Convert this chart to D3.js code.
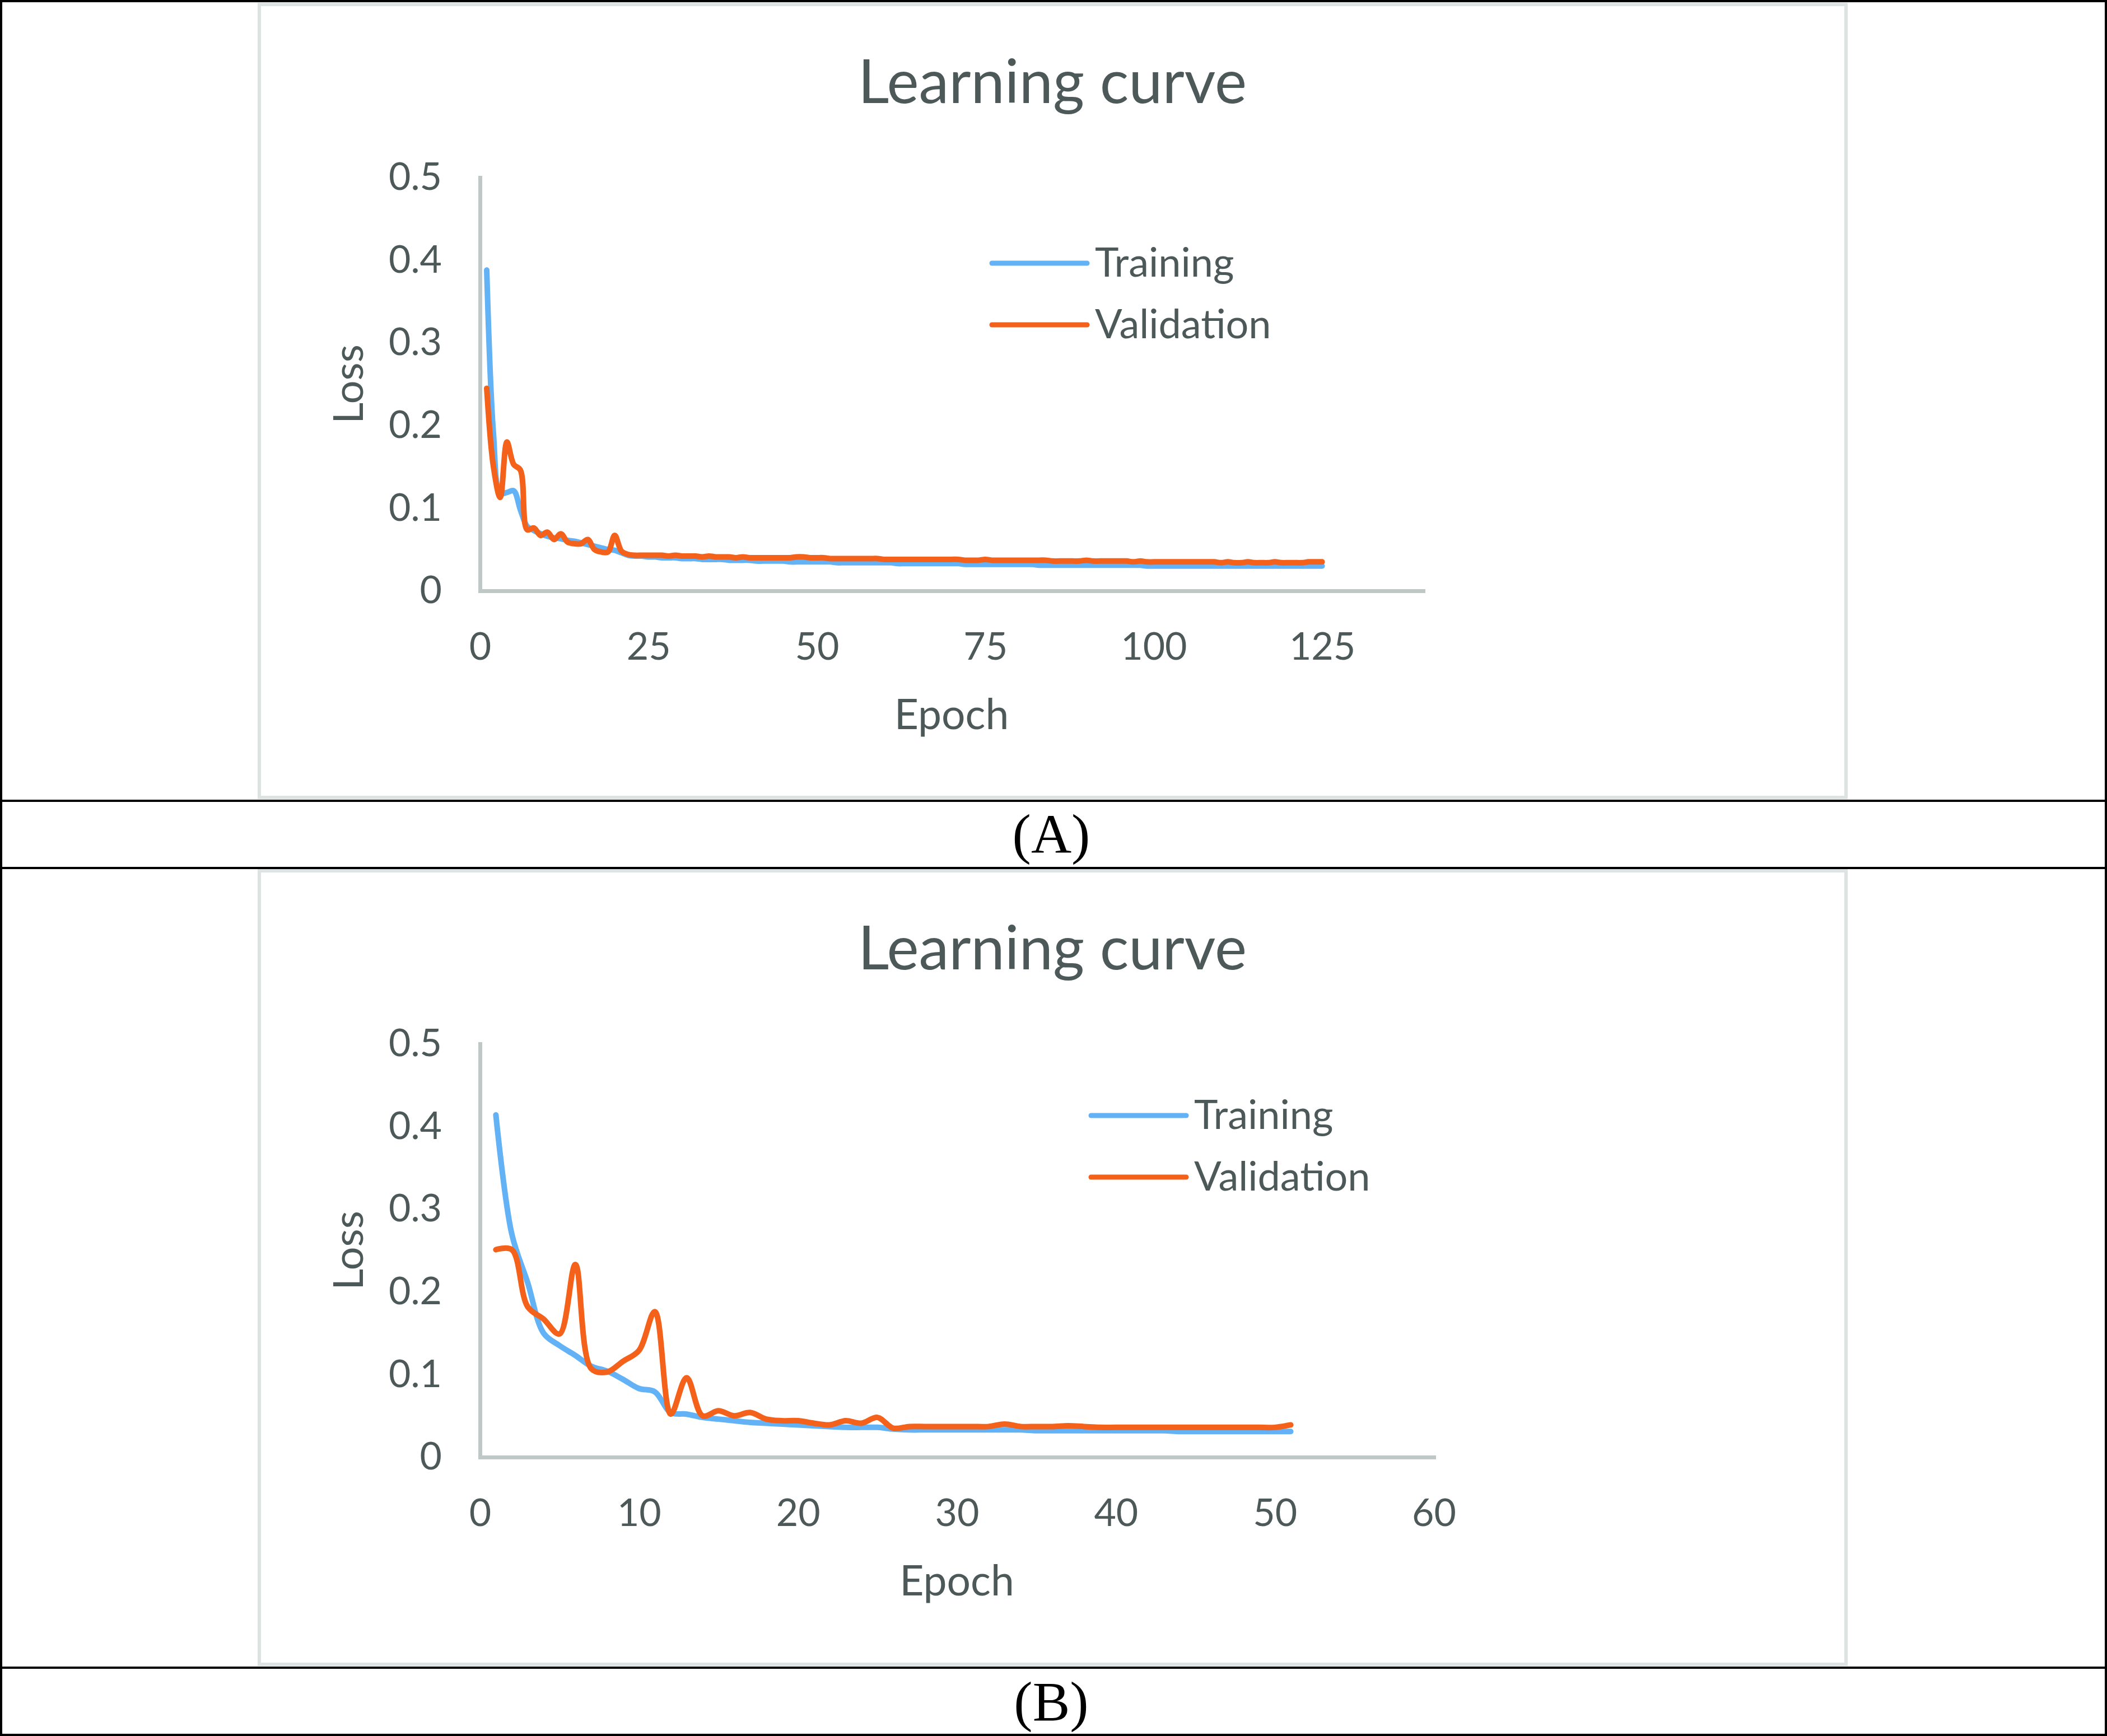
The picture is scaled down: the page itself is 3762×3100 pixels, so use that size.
<!DOCTYPE html>
<html>
<head>
<meta charset="utf-8">
<script src="https://cdn.jsdelivr.net/npm/d3@7"></script>
<style>
  body { margin: 0; background: #fff; }
  svg { display: block; }
</style>
</head>
<body>
<div id="fig"></div>
<script>
// values (epoch = index + 1)
var seriesNames = ['Training', 'Validation'];

var trainA = [
  0.388, 0.190, 0.118, 0.119, 0.121, 0.098, 0.078, 0.073, 0.069, 0.066,
  0.064, 0.063, 0.061, 0.060, 0.058, 0.056, 0.054, 0.052, 0.050, 0.049,
  0.046, 0.043, 0.042, 0.042, 0.041, 0.041, 0.040, 0.040, 0.040, 0.039,
  0.039, 0.039, 0.038, 0.038, 0.038, 0.038, 0.037, 0.037, 0.037, 0.037,
  0.036, 0.036, 0.036, 0.036, 0.036, 0.035, 0.035, 0.035, 0.035, 0.035,
  0.035, 0.035, 0.034, 0.034, 0.034, 0.034, 0.034, 0.034, 0.034, 0.034,
  0.034, 0.033, 0.033, 0.033, 0.033, 0.033, 0.033, 0.033, 0.033, 0.033,
  0.033, 0.032, 0.032, 0.032, 0.032, 0.032, 0.032, 0.032, 0.032, 0.032,
  0.032, 0.032, 0.031, 0.031, 0.031, 0.031, 0.031, 0.031, 0.031, 0.031,
  0.031, 0.031, 0.031, 0.031, 0.031, 0.031, 0.031, 0.031, 0.030, 0.030,
  0.030, 0.030, 0.030, 0.030, 0.030, 0.030, 0.030, 0.030, 0.030, 0.030,
  0.030, 0.030, 0.030, 0.030, 0.030, 0.030, 0.030, 0.030, 0.030, 0.030,
  0.030, 0.030, 0.030, 0.030, 0.030
];

var valA = [
  0.245, 0.150, 0.113, 0.180, 0.153, 0.146, 0.074, 0.076, 0.067, 0.071,
  0.062, 0.069, 0.059, 0.057, 0.057, 0.062, 0.050, 0.047, 0.047, 0.067,
  0.048, 0.044, 0.043, 0.043, 0.043, 0.043, 0.043, 0.042, 0.043, 0.042,
  0.042, 0.042, 0.041, 0.042, 0.041, 0.041, 0.041, 0.040, 0.041, 0.040,
  0.040, 0.040, 0.040, 0.040, 0.040, 0.040, 0.041, 0.041, 0.040, 0.040,
  0.040, 0.039, 0.039, 0.039, 0.039, 0.039, 0.039, 0.039, 0.039, 0.038,
  0.038, 0.038, 0.038, 0.038, 0.038, 0.038, 0.038, 0.038, 0.038, 0.038,
  0.038, 0.037, 0.037, 0.037, 0.038, 0.037, 0.037, 0.037, 0.037, 0.037,
  0.037, 0.037, 0.037, 0.037, 0.036, 0.036, 0.036, 0.036, 0.036, 0.037,
  0.036, 0.036, 0.036, 0.036, 0.036, 0.036, 0.035, 0.036, 0.035, 0.035,
  0.035, 0.035, 0.035, 0.035, 0.035, 0.035, 0.035, 0.035, 0.035, 0.034,
  0.035, 0.034, 0.034, 0.035, 0.034, 0.034, 0.034, 0.035, 0.034, 0.034,
  0.034, 0.034, 0.035, 0.035, 0.035
];

var trainB = [
  0.414, 0.270, 0.211, 0.150, 0.135, 0.123, 0.110, 0.104, 0.094, 0.083,
  0.079, 0.054, 0.052, 0.048, 0.046, 0.044, 0.042, 0.041, 0.040, 0.039,
  0.038, 0.037, 0.036, 0.036, 0.036, 0.034, 0.033, 0.033, 0.033, 0.033,
  0.033, 0.033, 0.033, 0.033, 0.032, 0.032, 0.032, 0.032, 0.032, 0.032,
  0.032, 0.032, 0.032, 0.031, 0.031, 0.031, 0.031, 0.031, 0.031, 0.031,
  0.031
];

var valB = [
  0.251, 0.251, 0.182, 0.167, 0.149, 0.233, 0.107, 0.103, 0.116, 0.129,
  0.176, 0.052, 0.096, 0.050, 0.056, 0.050, 0.054, 0.046, 0.044, 0.044,
  0.041, 0.039, 0.044, 0.041, 0.048, 0.035, 0.037, 0.037, 0.037, 0.037,
  0.037, 0.037, 0.040, 0.037, 0.037, 0.037, 0.038, 0.037, 0.036, 0.036,
  0.036, 0.036, 0.036, 0.036, 0.036, 0.036, 0.036, 0.036, 0.036, 0.036,
  0.039
];

var yTicks = [0, 0.1, 0.2, 0.3, 0.4, 0.5];
var xTicksA = [0, 25, 50, 75, 100, 125];
var xTicksB = [0, 10, 20, 30, 40, 50, 60];
var panelLabels = ['(A)', '(B)'];

var W = 3762, H = 3100;
var textColor = '#4d5858';
var axisColor = '#c0c8c7';
var colors = ['#62b2f5', '#f4611a'];
var font = 'Lato, "Open Sans", sans-serif';

var svg = d3.select('#fig').append('svg')
            .attr('width', W)
            .attr('height', H);

svg.append('rect').attr('width', W).attr('height', H).attr('fill', '#fff');

function drawPanel(cfg) {
  var g = svg.append('g');

  // light grey chart frame
  g.append('rect')
   .attr('x', 463).attr('y', cfg.top)
   .attr('width', 2833).attr('height', cfg.h)
   .attr('fill', '#fff')
   .attr('stroke', '#dde3e3')
   .attr('stroke-width', 6);

  var x = d3.scaleLinear().domain([0, cfg.xMax]).range([857, cfg.xRight]);
  var y = d3.scaleLinear().domain([0, 0.5]).range([cfg.top + 1047, cfg.top + 309]);

  g.append('text')
   .attr('x', 1879).attr('y', cfg.top + 176)
   .attr('text-anchor', 'middle')
   .style('font-family', font).style('font-size', '108px').style('fill', textColor)
   .text('Learning curve');

  var yAxis = g.append('g')
    .attr('transform', 'translate(857,0)')
    .call(d3.axisLeft(y).tickValues(yTicks).tickSize(0).tickSizeOuter(0).tickPadding(68)
            .tickFormat(function(d) { return String(d); }));

  var xAxis = g.append('g')
    .attr('transform', 'translate(0,' + y(0) + ')')
    .call(d3.axisBottom(x).tickValues(cfg.xTicks).tickSize(0).tickSizeOuter(0).tickPadding(75)
            .tickFormat(function(d) { return String(d); }));

  [yAxis, xAxis].forEach(function(a) {
    a.select('.domain').attr('stroke', axisColor).attr('stroke-width', 7)
     .attr('stroke-linecap', 'square');
    a.selectAll('text')
     .style('font-family', font).style('font-size', '68px').style('fill', textColor);
  });

  // axis titles
  g.append('text')
   .attr('transform', 'translate(648,' + ((y(0) + y(0.5)) / 2) + ') rotate(-90)')
   .attr('text-anchor', 'middle')
   .style('font-family', font).style('font-size', '74px').style('fill', textColor)
   .text('Loss');

  g.append('text')
   .attr('x', (x(0) + x(cfg.xMax)) / 2).attr('y', y(0) + 247)
   .attr('text-anchor', 'middle')
   .style('font-family', font).style('font-size', '75px').style('fill', textColor)
   .text('Epoch');

  var line = d3.line()
    .x(function(d, i) { return x(i + 1); })
    .y(function(d) { return y(d); })
    .curve(d3.curveCatmullRom.alpha(0.5));

  [cfg.train, cfg.val].forEach(function(s, k) {
    g.append('path')
     .datum(s)
     .attr('d', line)
     .attr('fill', 'none')
     .attr('stroke', colors[k])
     .attr('stroke-width', 10)
     .attr('stroke-linejoin', 'round')
     .attr('stroke-linecap', 'round');
  });

  // legend
  seriesNames.forEach(function(name, k) {
    var ly = cfg.top + cfg.legY + k * 110;
    g.append('line')
     .attr('x1', cfg.legX).attr('x2', cfg.legX + 170)
     .attr('y1', ly).attr('y2', ly)
     .attr('stroke', colors[k]).attr('stroke-width', 9).attr('stroke-linecap', 'round');
    g.append('text')
     .attr('x', cfg.legX + 184).attr('y', ly + 24)
     .style('font-family', font).style('font-size', '72px').style('fill', textColor)
     .text(name);
  });

  svg.append('text')
     .attr('x', 1877).attr('y', cfg.labelY)
     .attr('text-anchor', 'middle')
     .style('font-family', '"Liberation Serif", "Times New Roman", serif')
     .style('font-size', '100px').style('fill', '#000')
     .text(cfg.label);
}

drawPanel({ top: 8, h: 1416, xMax: 140, xRight: 2541, xTicks: xTicksA,
            train: trainA, val: valA, legX: 1771, legY: 462, labelY: 1523, label: panelLabels[0] });
drawPanel({ top: 1555, h: 1417, xMax: 60, xRight: 2560, xTicks: xTicksB,
            train: trainB, val: valB, legX: 1948, legY: 437, labelY: 3072, label: panelLabels[1] });

// black table rules around the two figures
[1430, 1550, 2978].forEach(function(yy) {
  svg.append('line')
     .attr('x1', 0).attr('x2', W)
     .attr('y1', yy).attr('y2', yy)
     .attr('stroke', '#000').attr('stroke-width', 4);
});
svg.append('rect')
   .attr('x', 2).attr('y', 2)
   .attr('width', W - 4).attr('height', H - 4)
   .attr('fill', 'none')
   .attr('stroke', '#000').attr('stroke-width', 4);
</script>
</body>
</html>
